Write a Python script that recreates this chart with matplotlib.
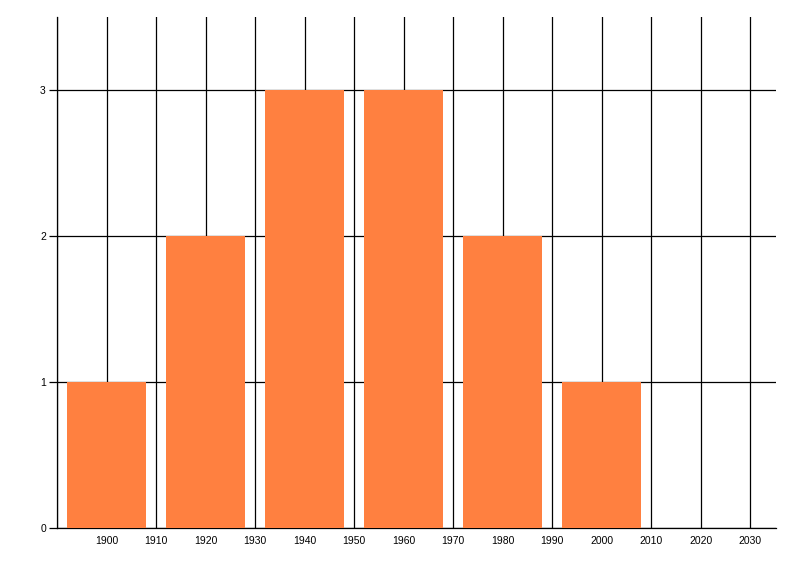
import matplotlib
matplotlib.use("Agg")
import matplotlib.pyplot as plt

plt.rcParams["font.family"] = ["Liberation Sans", "DejaVu Sans"]

decades = [1900, 1920, 1940, 1960, 1980, 2000]
counts = [1, 2, 3, 3, 2, 1]
xtick_values = list(range(1890, 2031, 10))
xtick_labels = ["" if v == 1890 else str(v) for v in xtick_values]
ytick_values = [0, 1, 2, 3]

fig = plt.figure(figsize=(8, 5.76), dpi=100)
ax = fig.add_axes([57/800, 1-528/576, (776-57)/800, (528-17)/576])

ax.bar(decades, counts, width=16, color="#FF8040", zorder=3)

ax.set_xlim(1890, 2035.2)
ax.set_ylim(0, 3.5)
ax.set_xticks(xtick_values)
ax.set_xticklabels(xtick_labels)
ax.set_yticks(ytick_values)
ax.set_yticklabels([str(v) for v in ytick_values])

ax.grid(True, color="black", linewidth=0.9, zorder=1)
ax.set_axisbelow(True)

for s in ["top", "right"]:
    ax.spines[s].set_visible(False)
for s in ["left", "bottom"]:
    ax.spines[s].set_linewidth(0.9)
    ax.spines[s].set_color("black")

ax.tick_params(axis="x", length=0, pad=6, labelsize=7.5, colors="black")
ax.tick_params(axis="y", length=6, width=0.9, pad=2, labelsize=7.5, colors="black")

fig.savefig("out.png", dpi=100)
